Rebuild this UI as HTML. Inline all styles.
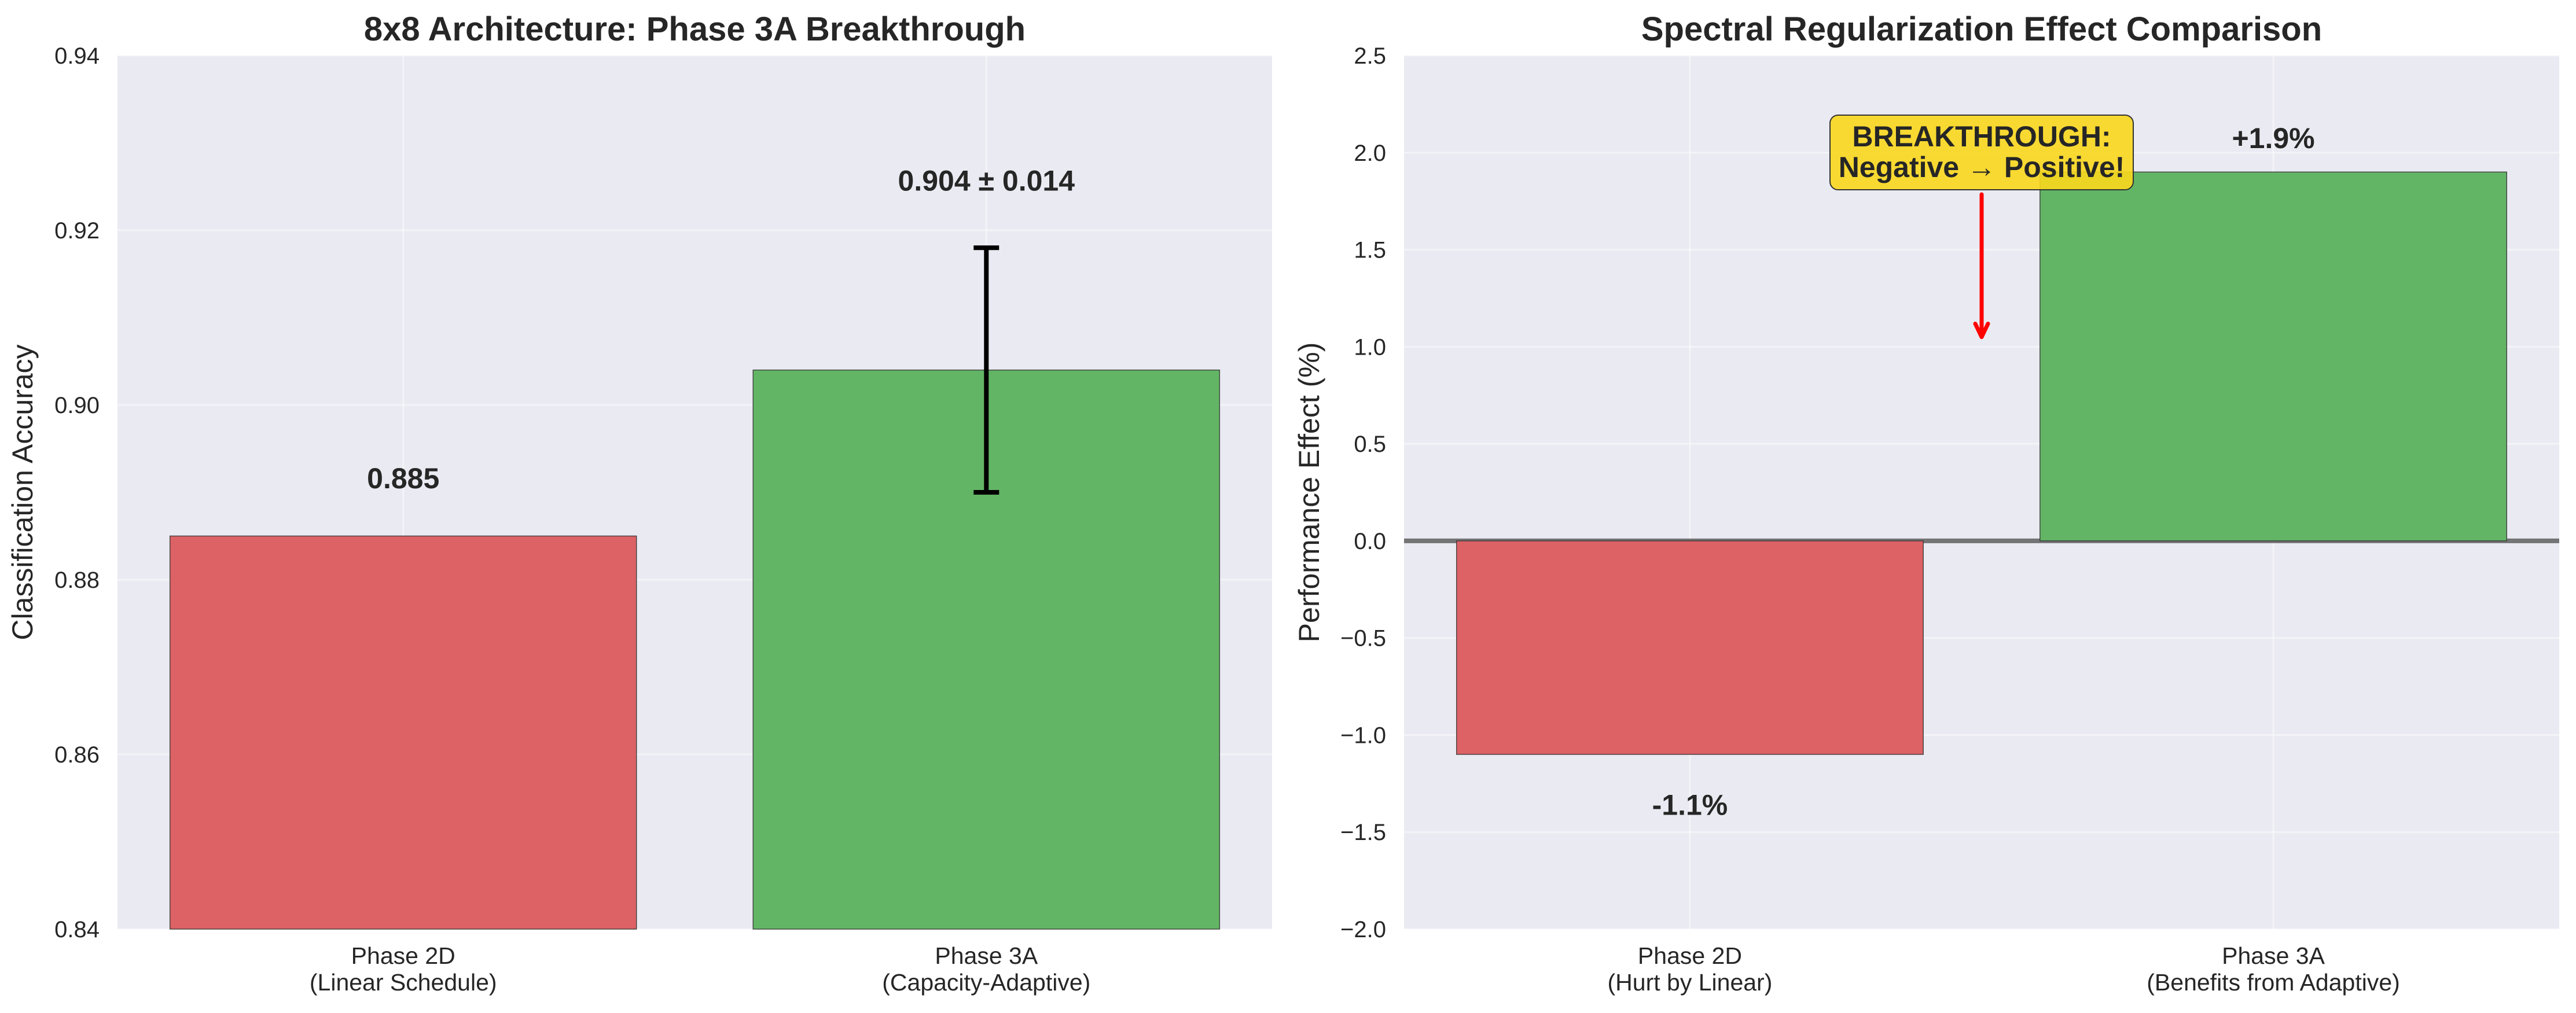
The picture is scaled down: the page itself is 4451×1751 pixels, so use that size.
<!DOCTYPE html>
<html><head><meta charset="utf-8">
<style>
html,body{margin:0;padding:0;background:#fff;}
svg{display:block;font-family:"Liberation Sans",sans-serif;}
</style></head>
<body>
<svg id="fig" width="4451" height="1751" viewBox="0 0 4451 1751" xmlns="http://www.w3.org/2000/svg">
<rect width="4451" height="1751" fill="#fff"/>
</svg>
<script>
// Left chart data
const leftCategories = ["Phase 2D|(Linear Schedule)", "Phase 3A|(Capacity-Adaptive)"];
const leftValues = [0.885, 0.904];
const leftErrors = [0, 0.014];
const leftLabels = ["0.885", "0.904 ± 0.014"];
const leftTicks = [0.84, 0.86, 0.88, 0.90, 0.92, 0.94];
const leftTickLabels = ["0.84", "0.86", "0.88", "0.90", "0.92", "0.94"];
// Right chart data
const rightCategories = ["Phase 2D|(Hurt by Linear)", "Phase 3A|(Benefits from Adaptive)"];
const rightValues = [-1.1, 1.9];
const rightLabels = ["-1.1%", "+1.9%"];
const rightTicks = [-2.0, -1.5, -1.0, -0.5, 0.0, 0.5, 1.0, 1.5, 2.0, 2.5];
const rightTickLabels = ["\u22122.0", "\u22121.5", "\u22121.0", "\u22120.5", "0.0", "0.5", "1.0", "1.5", "2.0", "2.5"];

const NS = "http://www.w3.org/2000/svg";
const svg = document.getElementById("fig");
const colors = ["#dc6265", "#63b566"];
function mk(tag, attrs, parent) {
  const e = document.createElementNS(NS, tag);
  for (const k in attrs) e.setAttribute(k, attrs[k]);
  (parent || svg).appendChild(e);
  return e;
}
function txt(x, y, s, attrs, parent) {
  const t = mk("text", Object.assign({x: x, y: y}, attrs), parent);
  t.textContent = s;
  return t;
}

function drawPanel(opts) {
  const g = mk("g", {});
  
  
  const L = opts.x0, R = opts.x1, T = 96, B = 1606;
  const xs = i => L + (i + 0.49) / 1.98 * (R - L);
  const ys = v => B - (v - opts.ymin) / (opts.ymax - opts.ymin) * (B - T);
  const bg = mk("rect", {x: L, y: T, width: R - L, height: B - T, fill: "#eaeaf2"}, g);
  
  
  opts.ticks.forEach((t, i) => {
    const gl = mk("line", {x1: L, x2: R, y1: ys(t), y2: ys(t), stroke: "#fff", "stroke-opacity": 0.45, "stroke-width": 3}, g);
    
    
    const tl = txt(L - 31, ys(t) + 14, opts.tickLabels[i], {"font-size": 40, fill: "#262626", "text-anchor": "end"}, g);
    
    
  });
  opts.cats.forEach((c, i) => {
    const gl = mk("line", {x1: xs(i), x2: xs(i), y1: T, y2: B, stroke: "#fff", "stroke-opacity": 0.45, "stroke-width": 3}, g);
    
    
  });
  if (opts.zero) {
    const z = mk("line", {x1: L, x2: R, y1: ys(0), y2: ys(0), stroke: "#555", "stroke-opacity": 0.8, "stroke-width": 8}, g);
    
    
  }
  const hw = 0.4 / 1.98 * (R - L);
  opts.values.forEach((v, i) => {
    const base = opts.zero ? 0 : opts.ymin;
    const y1 = Math.min(ys(v), ys(base)), y2 = Math.max(ys(v), ys(base));
    const b = mk("rect", {x: xs(i) - hw, y: y1, width: 2 * hw, height: y2 - y1, fill: colors[i], stroke: "#333", "stroke-opacity": 0.85, "stroke-width": 1.5}, g);
    
    
    const parts = opts.cats[i].split("|");
    const c1 = txt(xs(i), 1666, parts[0], {"font-size": 41, fill: "#262626", "text-anchor": "middle"}, g);
    
    
    const c2 = txt(xs(i), 1712, parts[1], {"font-size": 41, fill: "#262626", "text-anchor": "middle"}, g);
    
    
    let ly;
    if (opts.errors && opts.errors[i] > 0) {
      const e = opts.errors[i];
      const eg = mk("g", {stroke: "#000", "stroke-width": 8}, g);
      
      
      mk("line", {x1: xs(i), x2: xs(i), y1: ys(v - e), y2: ys(v + e)}, eg);
      mk("line", {x1: xs(i) - 22, x2: xs(i) + 22, y1: ys(v - e), y2: ys(v - e)}, eg);
      mk("line", {x1: xs(i) - 22, x2: xs(i) + 22, y1: ys(v + e), y2: ys(v + e)}, eg);
      ly = ys(v + e + 0.006) - 8;
    } else if (opts.zero) {
      ly = v >= 0 ? ys(v + 0.1) - 8 : ys(v - 0.1) + 71;
    } else {
      ly = ys(v + 0.005) - 7;
    }
    const vl = txt(xs(i), ly, opts.labels[i], {"font-size": 50, "font-weight": "bold", fill: "#262626", "text-anchor": "middle"}, g);
    
    
  });
  const ti = txt((L + R) / 2, 70, opts.title, {"font-size": 58, "font-weight": "bold", fill: "#262626", "text-anchor": "middle"}, g);
  
  
  const yl = txt(0, 0, opts.ylabel, {"font-size": 50, fill: "#262626", "text-anchor": "middle", transform: "translate(" + (L - 147) + "," + ((T + B) / 2) + ") rotate(-90)"}, g);
  
  
  return {xs: xs, ys: ys, g: g};
}

drawPanel({name: "left-chart", x0: 203, x1: 2198, ymin: 0.84, ymax: 0.94, ticks: leftTicks, tickLabels: leftTickLabels,
  cats: leftCategories, values: leftValues, errors: leftErrors, labels: leftLabels,
  title: "8x8 Architecture: Phase 3A Breakthrough", ylabel: "Classification Accuracy", zero: false});
const rp = drawPanel({name: "right-chart", x0: 2426, x1: 4422, ymin: -2.0, ymax: 2.5, ticks: rightTicks, tickLabels: rightTickLabels,
  cats: rightCategories, values: rightValues, labels: rightLabels,
  title: "Spectral Regularization Effect Comparison", ylabel: "Performance Effect (%)", zero: true});

const ax = (rp.xs(0) + rp.xs(1)) / 2;
const arrowTipY = rp.ys(1.05);
const ann = mk("g", {}, rp.g);


mk("line", {x1: ax, x2: ax, y1: 336, y2: arrowTipY - 6, stroke: "#ff0000", "stroke-width": 7, "stroke-linecap": "round"}, ann);
mk("polyline", {points: (ax - 11) + "," + (arrowTipY - 23) + " " + ax + "," + arrowTipY + " " + (ax + 11) + "," + (arrowTipY - 23), fill: "none", stroke: "#ff0000", "stroke-width": 7, "stroke-linecap": "round", "stroke-linejoin": "round"}, ann);
mk("rect", {x: ax - 262, y: 199, width: 524, height: 129, rx: 14, fill: "#f9d71c", "fill-opacity": 0.9, stroke: "#333", "stroke-width": 2}, ann);
txt(ax, 253, "BREAKTHROUGH:", {"font-size": 50, "font-weight": "bold", fill: "#262626", "text-anchor": "middle"}, ann);
txt(ax, 306, "Negative \u2192 Positive!", {"font-size": 50, "font-weight": "bold", fill: "#262626", "text-anchor": "middle"}, ann);
</script>
</body></html>
